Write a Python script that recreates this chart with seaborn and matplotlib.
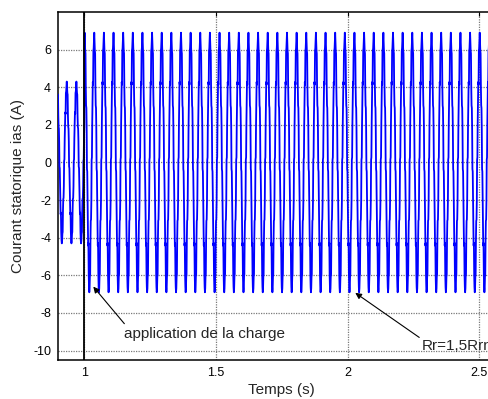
import numpy as np
import pandas as pd
import matplotlib
matplotlib.use("Agg")
import matplotlib.pyplot as plt
import seaborn as sns

# --- data -------------------------------------------------------------
# stator current: one cycle shape (per-unit of peak), repeated per regime;
# repeated levels are the short flats of the switching ripple
cycle_shape = [-1.00, -0.97, -0.88, -0.86, -0.60, -0.45, -0.44, -0.30, 0.02,
               0.04, 0.30, 0.45, 0.62, 0.60, 0.86, 0.88, 0.95, 1.00, 0.93,
               0.86, 0.84, 0.58, 0.44, 0.42, 0.26, -0.05, -0.07, -0.28,
               -0.44, -0.64, -0.62, -0.86, -0.96]
cycle_period = 0.0366          # s
regime_start = [0.90, 1.00]    # s : no load, then load applied
regime_end = [1.00, 2.60]
regime_peak = [4.3, 6.9]       # A
regime_phase = [0.62, 0.50]    # cycle fraction at regime start

x_ticks = [1, 1.5, 2, 2.5]
x_tick_labels = ["1", "1.5", "2", "2.5"]
y_ticks = [-10, -8, -6, -4, -2, 0, 2, 4, 6]

load_label = "application de la charge"
load_point = (1.034, -6.6)
load_text = (1.152, -9.1)
rr_label = "Rr=1,5Rrn"
rr_point = (2.029, -6.93)
rr_text = (2.28, -9.74)

# --- build the sampled waveform -----------------------------------------
n = len(cycle_shape)
dt = cycle_period / n
times, values = [], []
for t0, t1, pk, ph in zip(regime_start, regime_end, regime_peak, regime_phase):
    k0 = int(round(ph * n))
    count = int(np.ceil((t1 - t0) / dt))
    idx = (np.arange(count) + k0) % n
    times.append(t0 + np.arange(count) * dt)
    values.append(pk * np.asarray(cycle_shape)[idx])
df = pd.DataFrame({"t": np.concatenate(times), "ias": np.concatenate(values)})

# --- figure ---------------------------------------------------------------
sns.set_style("white")
plt.rcParams["font.family"] = ["Liberation Sans", "DejaVu Sans"]
plt.rcParams["axes.unicode_minus"] = False

W, H = 488, 399
fig = plt.figure(figsize=(W / 100, H / 100), dpi=100)
x0, x1 = 0.9, 2.6
px_per_s = 263.3
left_px, top_px, bottom_px = 58, 12, 360
ax = fig.add_axes([left_px / W, 1 - bottom_px / H,
                   (x1 - x0) * px_per_s / W, (bottom_px - top_px) / H])

sns.lineplot(data=df, x="t", y="ias", ax=ax, color="#0000ff", lw=1.3,
             estimator=None, sort=False, zorder=3)

ax.set_xlim(x0, x1)
ax.set_ylim(-10.5, 8)
ax.set_xticks(x_ticks)
ax.set_xticklabels(x_tick_labels)
ax.set_yticks(y_ticks)
ax.grid(True, color="#7a7a7a", ls=(0, (1, 1)), lw=0.9)
ax.tick_params(direction="in", length=3, width=0.8, top=True, right=True,
               labelsize=9, colors="black", pad=5)
for s in ax.spines.values():
    s.set_color("black")
    s.set_linewidth(1.1)

ax.axvline(1.0, color="black", lw=1.3, zorder=4)

ax.set_xlabel("Temps (s)", fontsize=11, labelpad=3)
ax.set_ylabel("Courant statorique ias (A)", fontsize=11, labelpad=6)

arrow = dict(arrowstyle="-|>", color="black", lw=0.8, mutation_scale=9,
             shrinkA=0, shrinkB=0)
ax.annotate("", xy=load_point, xytext=(1.152, -8.57), arrowprops=arrow, zorder=5)
ax.text(load_text[0], load_text[1], load_label, fontsize=11, va="center",
        ha="left", zorder=5)
ax.annotate("", xy=rr_point, xytext=(2.272, -9.3), arrowprops=arrow, zorder=5)
ax.text(rr_text[0], rr_text[1], rr_label, fontsize=11, va="center",
        ha="left", zorder=5)

fig.savefig("out.png", dpi=100)
